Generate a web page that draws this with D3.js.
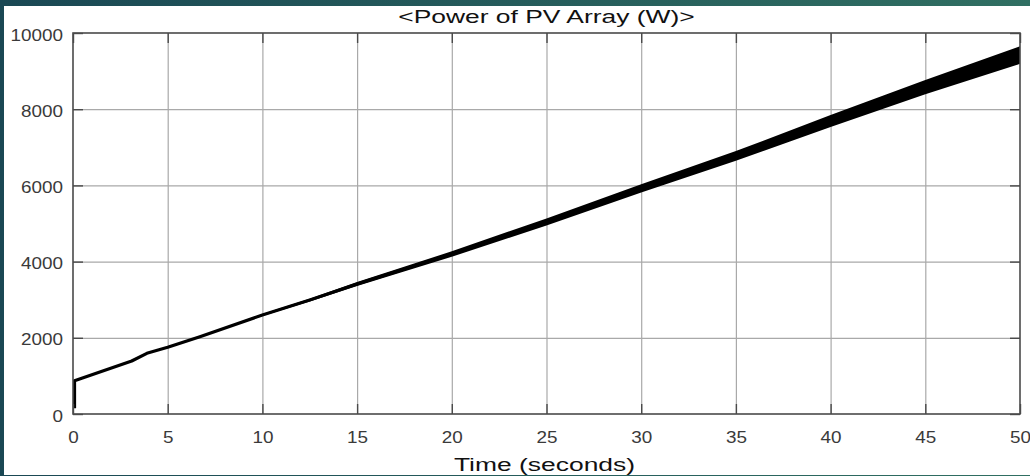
<!DOCTYPE html>
<html>
<head>
<meta charset="utf-8">
<script src="https://cdn.jsdelivr.net/npm/d3@7"></script>
<style>
  html, body { margin: 0; padding: 0; background: #1d4f5a; }
  svg { display: block; }
  text { font-family: "Liberation Sans", Arial, Helvetica, sans-serif; }
</style>
</head>
<body>
<svg id="chart" width="1030" height="476"></svg>
<script>
// PV array output power over a 50 s simulation run
const timeS   = [0.08, 0.08, 3.1, 3.9, 5, 6.7, 10, 12.5, 15, 20, 25, 30, 35, 40, 45, 50];
const powerW  = [150, 870, 1390, 1593, 1750, 2030, 2598, 2990, 3412, 4199, 5040, 5924, 6772, 7690, 8580, 9420];
// peak ripple around the mean power (switching oscillation envelope)
const rippleW = [0, 0, 0, 0, 8, 15, 28, 38, 50, 72, 92, 108, 128, 155, 185, 230];

const xTicks = [0, 5, 10, 15, 20, 25, 30, 35, 40, 45, 50];
const yTicks = [0, 2000, 4000, 6000, 8000, 10000];
const titleText = "<Power of PV Array (W)>";
const xLabelText = "Time (seconds)";

const W = 1030, H = 476;
const plot = { left: 73, right: 1020, top: 33, bottom: 414 };
const tickStretch = 1.18, labelStretch = 1.51;

const svg = d3.select("#chart");
const defs = svg.append("defs");

const grad = defs.append("linearGradient").attr("id", "frameGrad")
  .attr("x1", "0").attr("y1", "0").attr("x2", "1").attr("y2", "0");
grad.append("stop").attr("offset", "0").attr("stop-color", "#1a4854");
grad.append("stop").attr("offset", "1").attr("stop-color", "#306f62");

defs.append("clipPath").attr("id", "plotClip").append("rect")
  .attr("x", plot.left).attr("y", plot.top)
  .attr("width", plot.right - plot.left).attr("height", plot.bottom - plot.top);

// frame and white figure area
svg.append("rect").attr("width", W).attr("height", H).attr("fill", "url(#frameGrad)");
svg.append("rect").attr("x", 4).attr("y", 6).attr("width", W - 4).attr("height", 469).attr("fill", "#ffffff");

const x = d3.scaleLinear().domain([0, 50]).range([plot.left, plot.right]);
const y = d3.scaleLinear().domain([0, 10000]).range([plot.bottom, plot.top]);

// grid
const grid = svg.append("g").attr("class", "grid");
grid.append("g").attr("transform", `translate(0,${plot.bottom})`)
  .call(d3.axisBottom(x).tickValues(xTicks.slice(1, -1)).tickSize(-(plot.bottom - plot.top)).tickFormat(""));
grid.append("g").attr("transform", `translate(${plot.left},0)`)
  .call(d3.axisLeft(y).tickValues(yTicks.slice(1, -1)).tickSize(-(plot.right - plot.left)).tickFormat(""));
grid.selectAll(".domain").remove();
grid.selectAll("line").attr("stroke", "#a9a9a9").attr("stroke-width", 1.2);

// power trace: ripple envelope plus mean line
const pts = timeS.map((t, i) => ({ t, p: powerW[i], r: rippleW[i] }));
const traceG = svg.append("g").attr("clip-path", "url(#plotClip)");
traceG.append("path").datum(pts)
  .attr("d", d3.area().x(d => x(d.t)).y0(d => y(d.p - d.r)).y1(d => y(d.p + d.r)))
  .attr("fill", "#000");
traceG.append("path").datum(pts)
  .attr("d", d3.line().x(d => x(d.t)).y(d => y(d.p)))
  .attr("fill", "none").attr("stroke", "#000").attr("stroke-width", 3.2)
  .attr("stroke-linejoin", "round");

// axes with inward ticks on all four sides
const axisColor = "#4a4a4a";
const axB = svg.append("g").attr("transform", `translate(0,${plot.bottom})`)
  .call(d3.axisBottom(x).tickValues(xTicks).tickSize(-10).tickFormat(d3.format("d")));
const axT = svg.append("g").attr("transform", `translate(0,${plot.top})`)
  .call(d3.axisTop(x).tickValues(xTicks).tickSize(-10).tickFormat(""));
const axL = svg.append("g").attr("transform", `translate(${plot.left},0)`)
  .call(d3.axisLeft(y).tickValues(yTicks).tickSize(-10).tickFormat(d3.format("d")));
const axR = svg.append("g").attr("transform", `translate(${plot.right},0)`)
  .call(d3.axisRight(y).tickValues(yTicks).tickSize(-10).tickFormat(""));

[axB, axT, axL, axR].forEach(a => {
  a.select(".domain").remove();
  a.selectAll("line").attr("stroke", axisColor).attr("stroke-width", 1.4);
});

axB.selectAll("text")
  .attr("x", null).attr("y", null).attr("dy", null)
  .attr("text-anchor", "middle")
  .attr("transform", `translate(0,29) scale(${tickStretch},1)`)
  .attr("font-size", 16).attr("fill", "#3a3a3a");
axL.selectAll("text")
  .attr("x", null).attr("y", null).attr("dy", null)
  .attr("text-anchor", "end")
  .attr("transform", `translate(-10,7) scale(${tickStretch},1)`)
  .attr("font-size", 16).attr("fill", "#3a3a3a");

// box
svg.append("rect")
  .attr("x", plot.left).attr("y", plot.top)
  .attr("width", plot.right - plot.left).attr("height", plot.bottom - plot.top)
  .attr("fill", "none").attr("stroke", axisColor).attr("stroke-width", 1.6);

// title and axis label
const cx = (plot.left + plot.right) / 2;
svg.append("text")
  .attr("transform", `translate(${cx},23) scale(${labelStretch},1)`)
  .attr("text-anchor", "middle").attr("font-size", 17.5).attr("fill", "#111")
  .text(titleText);
svg.append("text")
  .attr("transform", `translate(${cx - 2},471) scale(${labelStretch},1)`)
  .attr("text-anchor", "middle").attr("font-size", 17.5).attr("fill", "#111")
  .text(xLabelText);
</script>
</body>
</html>
